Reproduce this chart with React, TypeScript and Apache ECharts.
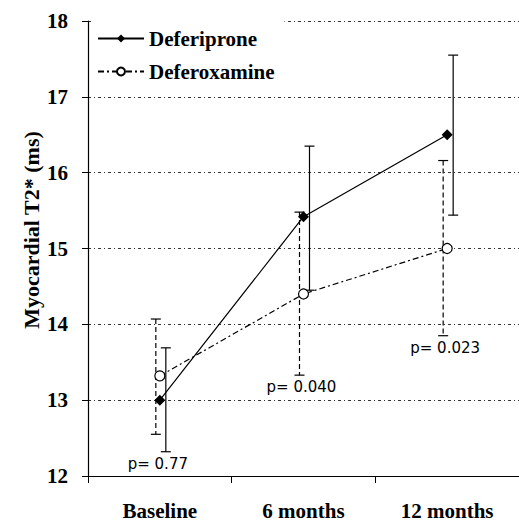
import React, { useEffect, useRef } from "react";
import * as echarts from "echarts";

const categories = ["Baseline", "6 months", "12 months"];
const deferiprone = [13.0, 15.42, 16.5];
const deferiproneLow = [12.32, 14.45, 15.44];
const deferiproneHigh = [13.69, 16.35, 17.55];
const deferoxamine = [13.32, 14.4, 15.0];
const deferoxamineLow = [12.55, 13.33, 13.85];
const deferoxamineHigh = [14.07, 15.48, 16.16];
const pLabels = ["p= 0.77", "p= 0.040", "p= 0.023"];
const yTicks = [12, 13, 14, 15, 16, 17, 18];

const SERIF = "Liberation Serif";

function errorBarSeries(name: string, lows: number[], highs: number[], offset: number, dash: any) {
  return {
    type: "custom",
    name,
    z: 1,
    silent: true,
    encode: { x: 0, y: [1, 2] },
    data: lows.map((lo, i) => [i, lo, highs[i]]),
    renderItem: (params: any, api: any) => {
      const i = api.value(0);
      const lo = api.coord([i, api.value(1)]);
      const hi = api.coord([i, api.value(2)]);
      const x = lo[0] + offset;
      const cw = 5;
      const style = { stroke: "#000", lineWidth: 1.2, lineDash: dash };
      const capStyle = { stroke: "#000", lineWidth: 1.2 };
      return {
        type: "group",
        children: [
          { type: "line", shape: { x1: x, y1: hi[1], x2: x, y2: lo[1] }, style },
          { type: "line", shape: { x1: x - cw, y1: hi[1], x2: x + cw, y2: hi[1] }, style: capStyle },
          { type: "line", shape: { x1: x - cw, y1: lo[1], x2: x + cw, y2: lo[1] }, style: capStyle },
        ],
      };
    },
  };
}

export default function App() {
  const ref = useRef<HTMLDivElement>(null);
  useEffect(() => {
    if (!ref.current) return;
    const chart = echarts.init(ref.current, undefined, { renderer: "svg" });
    const option: any = {
      animation: false,
      backgroundColor: "#fff",
      grid: { left: 88, right: 0, top: 21, bottom: 49, containLabel: false },
      legend: {
        orient: "vertical",
        left: 91,
        top: 8,
        padding: [20, 10, 8, 6],
        backgroundColor: "#fff",
        itemWidth: 46,
        itemHeight: 10,
        itemGap: 12,
        data: ["Deferiprone", "Deferoxamine"],
        textStyle: { fontFamily: SERIF, fontWeight: "bold", fontSize: 21, color: "#000" },
      },
      xAxis: {
        type: "category",
        data: categories,
        boundaryGap: true,
        axisLine: { lineStyle: { color: "#000", width: 1.2 } },
        axisTick: { show: true, interval: 0, length: 7, lineStyle: { color: "#000" } },
        axisLabel: {
          interval: 0,
          margin: 24,
          fontFamily: SERIF,
          fontWeight: "bold",
          fontSize: 21,
          color: "#000",
        },
        splitLine: { show: false },
      },
      yAxis: {
        type: "value",
        min: yTicks[0],
        max: yTicks[yTicks.length - 1],
        interval: 1,
        axisLine: { show: true, lineStyle: { color: "#000", width: 1.2 } },
        axisTick: { show: true, length: 6, lineStyle: { color: "#000" } },
        axisLabel: {
          margin: 20,
          fontFamily: SERIF,
          fontWeight: "bold",
          fontSize: 21,
          color: "#000",
        },
        splitLine: {
          show: true,
          lineStyle: { color: "#333", width: 1, type: [3, 3, 1, 3] },
        },
      },
      graphic: [
        {
          type: "text",
          x: 31,
          y: 230,
          rotation: Math.PI / 2,
          style: {
            text: "Myocardial T2* (ms)",
            font: "bold 22px 'Liberation Serif'",
            fill: "#000",
            textAlign: "center",
            textVerticalAlign: "middle",
          },
        },
      ],
      series: [
        errorBarSeries("dfpErr", deferiproneLow, deferiproneHigh, 6, null),
        errorBarSeries("dfoErr", deferoxamineLow, deferoxamineHigh, -4, [5, 3]),
        {
          type: "line",
          name: "Deferiprone",
          data: deferiprone,
          z: 3,
          symbol: "diamond",
          symbolSize: 11,
          itemStyle: { color: "#000" },
          lineStyle: { color: "#000", width: 1.2, type: "solid" },
        },
        {
          type: "line",
          name: "Deferoxamine",
          data: deferoxamine,
          z: 3,
          symbol: "circle",
          symbolSize: 10,
          itemStyle: { color: "#fff", borderColor: "#000", borderWidth: 1.2 },
          lineStyle: { color: "#000", width: 1.2, type: [6, 3, 2, 3] },
        },
        {
          type: "custom",
          name: "pvalues",
          z: 4,
          silent: true,
          encode: { x: 0, y: 1 },
          data: pLabels.map((_, i) => [i, Math.min(deferiproneLow[i], deferoxamineLow[i])]),
          renderItem: (params: any, api: any) => {
            const i = api.value(0);
            const p = api.coord([i, api.value(1)]);
            return {
              type: "text",
              x: p[0] - 2,
              y: p[1] + 12,
              style: {
                text: pLabels[params.dataIndex],
                font: "15px 'DejaVu Sans'",
                fill: "#000",
                textAlign: "center",
                textVerticalAlign: "middle",
              },
            };
          },
        },
      ],
    };
    chart.setOption(option);
    return () => chart.dispose();
  }, []);
  return (
    <div
      ref={ref}
      style={{ position: "absolute", left: 0, top: 0, width: 519, height: 525, background: "#fff" }}
    />
  );
}
